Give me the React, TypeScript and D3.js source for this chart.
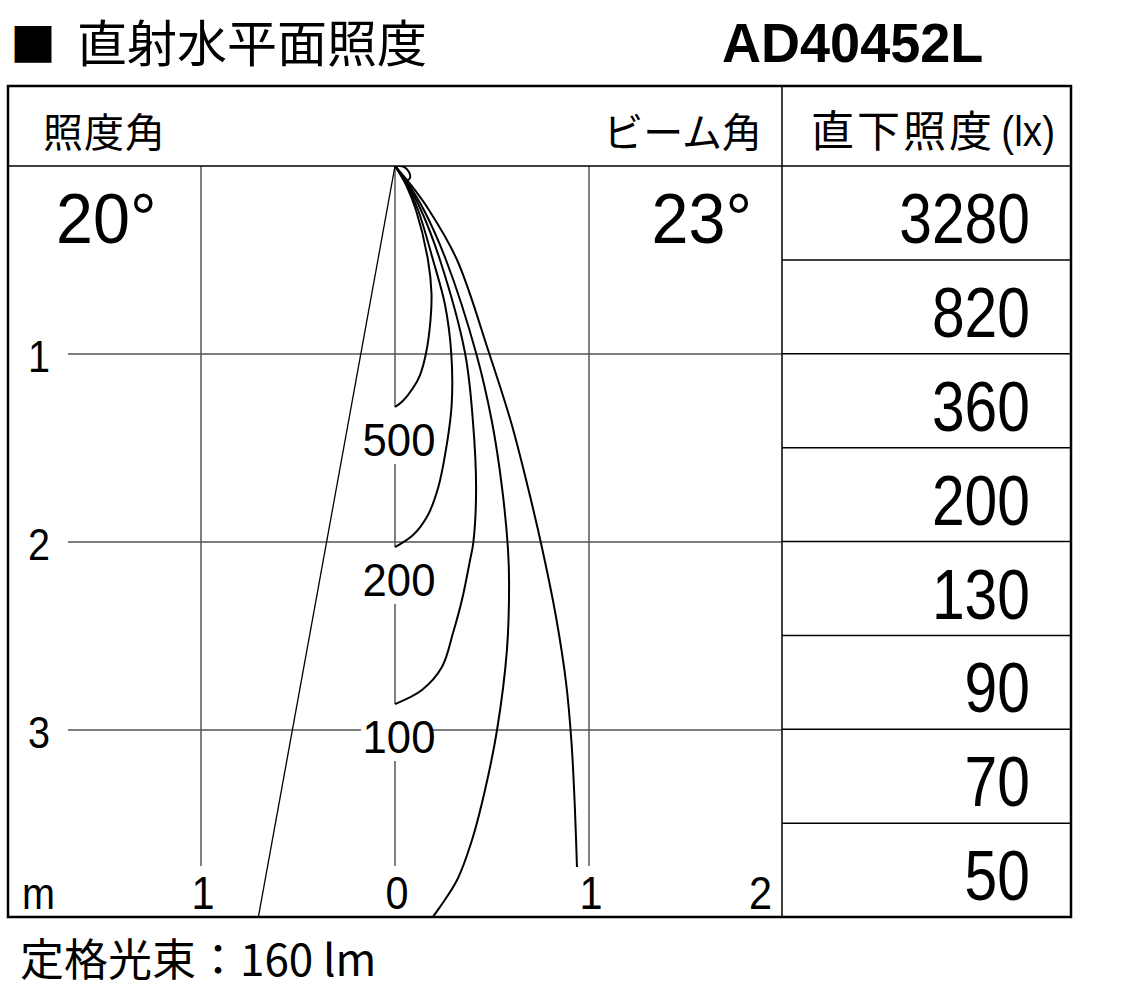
import React from "react";
import * as d3 from "d3";

// labels
const title = "直射水平面照度";
const model = "AD40452L";
const ratedFlux = "定格光束：160 lm";
const illumAngle = 20;
const beamAngle = 23;

// axes (m)
const depthTicks = [1, 2, 3];
const widthTicks = [-1, 0, 1, 2];

// centre illuminance table
const centerDepths = [1, 2, 3, 4, 5, 6, 7, 8];
const centerLux = [3280, 820, 360, 200, 130, 90, 70, 50];

// isolux curves, [offset m, depth m]
const isoLabels = ["500", "200", "100"];
const curve500: [number, number][] = [
  [0, 0], [0.057, 0.101], [0.108, 0.234], [0.17, 0.5], [0.188, 0.676],
  [0.183, 0.819], [0.16, 0.995], [0.129, 1.112], [0.093, 1.181], [0.04, 1.25], [0, 1.282],
];
const curve200: [number, number][] = [
  [0, 0], [0.062, 0.101], [0.119, 0.234], [0.196, 0.5], [0.258, 0.739], [0.29, 0.995],
  [0.292, 1.271], [0.258, 1.537], [0.222, 1.713], [0.17, 1.856], [0.093, 1.963], [0, 2.027],
];
const curve100: [number, number][] = [
  [0, 0], [0.067, 0.101], [0.134, 0.234], [0.232, 0.5], [0.361, 0.995], [0.402, 1.362],
  [0.418, 1.713], [0.404, 2.0], [0.387, 2.096], [0.345, 2.309], [0.299, 2.484],
  [0.242, 2.665], [0.139, 2.787], [0, 2.862],
];
const curve50: [number, number][] = [
  [0, 0], [0.072, 0.101], [0.149, 0.234], [0.263, 0.5], [0.418, 0.995], [0.5, 1.362],
  [0.552, 1.713], [0.582, 2.032], [0.588, 2.218], [0.577, 2.574], [0.526, 3.0],
  [0.464, 3.319], [0.397, 3.585], [0.32, 3.798], [0.232, 3.941], [0.191, 4.0],
];
const curve20: [number, number][] = [
  [0, 0], [0.082, 0.101], [0.175, 0.234], [0.32, 0.5], [0.485, 0.995], [0.598, 1.362],
  [0.686, 1.713], [0.758, 2.032], [0.83, 2.399], [0.882, 2.75], [0.91, 3.069],
  [0.927, 3.41], [0.938, 3.729],
];
const loopCurve: [number, number][] = [
  [0.004, 0], [0.046, 0.005], [0.072, 0.032], [0.077, 0.064], [0.062, 0.074],
  [0.036, 0.053], [0.015, 0.021],
];

const W = 1122;
const H = 999;
const frame = { left: 8, top: 86, right: 1071, bottom: 917 };
const headerBottom = 166;
const colDiv = 782;
const gridBottom = 866;

const JP = "'Noto Sans CJK JP', sans-serif";
const NUM = "'Liberation Sans', Arial, sans-serif";

const App = () => {
  const x = d3.scaleLinear().domain([0, 1]).range([395, 589]);
  const y = d3.scaleLinear().domain([0, 1]).range([headerBottom, 354]);
  const rows = d3.scaleBand<number>().domain(centerDepths).range([headerBottom, frame.bottom]);

  const line = d3
    .line<[number, number]>()
    .x((d) => x(d[0]))
    .y((d) => y(d[1]))
    .curve(d3.curveCatmullRom.alpha(0.5));
  const loop = d3
    .line<[number, number]>()
    .x((d) => x(d[0]))
    .y((d) => y(d[1]))
    .curve(d3.curveCatmullRomClosed.alpha(0.5));

  const closedCurves = [curve500, curve200, curve100];
  const ends = closedCurves.map((c) => y(c[c.length - 1][1]));
  const segments: [number, number][] = [];
  let start = y(0);
  ends.forEach((e) => {
    segments.push([start, e]);
    start = e + 57;
  });
  segments.push([start, gridBottom]);

  const halfRad = ((illumAngle / 2) * Math.PI) / 180;
  const edgeDepth = y.invert(frame.bottom);
  const gridColor = "#555";

  const num = (
    txt: string,
    px: number,
    py: number,
    size: number,
    sx: number,
    anchor: "start" | "middle" | "end" = "start"
  ) => (
    <text
      transform={`translate(${px},${py}) scale(${sx},1)`}
      fontFamily={NUM}
      fontSize={size}
      textAnchor={anchor}
      fill="#000"
    >
      {txt}
    </text>
  );

  return (
    <svg
      width={W}
      height={H}
      style={{ position: "absolute", left: 0, top: 0, background: "#fff" }}
    >
      <defs>
        <clipPath id="plot">
          <rect x={frame.left} y={headerBottom} width={colDiv - frame.left} height={frame.bottom - headerBottom} />
        </clipPath>
      </defs>

      {/* title */}
      <text x={10} y={61} fontFamily={JP} fontSize={46}>■</text>
      <text x={77} y={62} fontFamily={JP} fontSize={50}>{title}</text>
      <text
        transform="translate(722,62) scale(0.965,1)"
        fontFamily={NUM}
        fontWeight="bold"
        fontSize={56}
      >
        {model}
      </text>

      {/* grid */}
      {depthTicks.map((d) => (
        <line key={"h" + d} x1={68} x2={colDiv} y1={y(d)} y2={y(d)} stroke={gridColor} strokeWidth={1.5} />
      ))}
      {widthTicks
        .filter((d) => d !== 0 && x(d) < colDiv - 5)
        .map((d) => (
          <line key={"v" + d} x1={x(d)} x2={x(d)} y1={y(0)} y2={gridBottom} stroke={gridColor} strokeWidth={1.5} />
        ))}
      {segments.map((s, i) => (
        <line key={"s" + i} x1={x(0)} x2={x(0)} y1={s[0]} y2={s[1]} stroke={gridColor} strokeWidth={1.5} />
      ))}

      {/* isolux labels */}
      {ends.map((e, i) => (
        <g key={"l" + i}>
          <rect x={x(0) - 34} y={e + 15} width={72} height={36} fill="#fff" />
          {num(isoLabels[i], x(0) + 4, e + 49, 46, 0.95, "middle")}
        </g>
      ))}

      {/* beam line + curves */}
      <g clipPath="url(#plot)" fill="none" stroke="#000">
        <line
          x1={x(0)}
          y1={y(0)}
          x2={x(-Math.tan(halfRad) * edgeDepth)}
          y2={y(edgeDepth)}
          strokeWidth={1.3}
        />
        {[curve500, curve200, curve100, curve50, curve20].map((c, i) => (
          <path key={"c" + i} d={line(c) || ""} strokeWidth={2} />
        ))}
        <path d={loop(loopCurve) || ""} strokeWidth={2} />
      </g>

      {/* table lines */}
      {centerDepths.slice(1).map((d) => (
        <line key={"r" + d} x1={colDiv} x2={frame.right} y1={rows(d)} y2={rows(d)} stroke="#000" strokeWidth={1.5} />
      ))}
      <line x1={frame.left} x2={frame.right} y1={headerBottom} y2={headerBottom} stroke="#000" strokeWidth={1.5} />
      <line x1={colDiv} x2={colDiv} y1={frame.top} y2={frame.bottom} stroke="#000" strokeWidth={1.5} />
      <rect
        x={frame.left}
        y={frame.top}
        width={frame.right - frame.left}
        height={frame.bottom - frame.top}
        fill="none"
        stroke="#000"
        strokeWidth={2.5}
      />

      {/* header */}
      <text x={43} y={147} fontFamily={JP} fontSize={40} letterSpacing={1}>照度角</text>
      <text x={762} y={147} fontFamily={JP} fontSize={40} textAnchor="end">ビーム角</text>
      <text x={811} y={147} fontFamily={JP} fontSize={43} letterSpacing={3}>直下照度</text>
      {num("(lx)", 1055, 146, 42, 0.92, "end")}

      {num(`${illumAngle}°`, 56, 243, 70, 0.95)}
      {num(`${beamAngle}°`, 752, 243, 70, 0.95, "end")}

      {centerLux.map((v, i) => (
        <g key={"t" + i}>{num(String(v), 1030, (rows(centerDepths[i]) as number) + 77, 70, 0.84, "end")}</g>
      ))}

      {/* axis labels */}
      {depthTicks.map((d) => (
        <g key={"dl" + d}>{num(String(d), 28, y(d) + 18, 44, 0.9)}</g>
      ))}
      {num("m", 22, 909, 44, 0.9)}
      {widthTicks.map((d) => (
        <g key={"wl" + d}>
          {d === 2
            ? num(String(Math.abs(d)), x(d) - 11, 909, 46, 0.9, "end")
            : num(String(Math.abs(d)), x(d) + 2, 909, 46, 0.9, "middle")}
        </g>
      ))}

      {/* footer */}
      <text x={20} y={976} fontFamily={JP} fontSize={44}>{ratedFlux}</text>
    </svg>
  );
};

export default App;
